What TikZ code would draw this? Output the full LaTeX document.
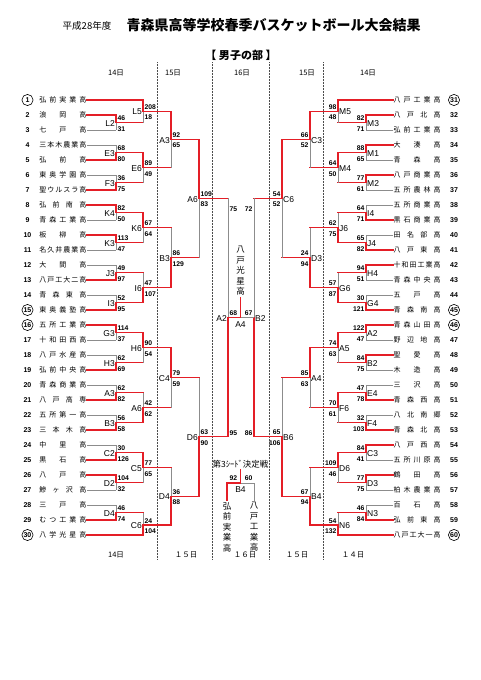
\documentclass[tikz,border=0pt]{standalone}
\usepackage{fontspec}
\setmainfont{Liberation Sans}
\newfontfamily\jpn{Noto Sans CJK JP}
\definecolor{lred}{RGB}{228,30,38}
\definecolor{lgray}{RGB}{140,140,140}
% team name spread over a fixed width
\newcommand\tname[1]{\hbox to 47pt{\spaceskip=0pt plus 1fil\relax #1}}
% game: #1 coord, #2 winner entry, #3 loser entry, #4 next game, #5 label, #6/#7 scores
\newcommand\lgame[7]{%
  \draw[lose] (#1) -- (#1 |- #3);
  \draw[win] (#1) -- (#1 |- #2) (#1) -- (#1 -| #4);
  \node[lbl, anchor=east] at ([shift={(-0.5,0.8)}]#1) {#5};
  \node[sc, anchor=base west] at ([shift={(1,-2)}]#1) {#6};
  \node[sc, anchor=base west] at ([shift={(1,8.5)}]#1) {#7};
}
\newcommand\rgame[7]{%
  \draw[lose] (#1) -- (#1 |- #3);
  \draw[win] (#1) -- (#1 |- #2) (#1) -- (#1 -| #4);
  \node[lbl, anchor=west] at ([shift={(0.5,0.8)}]#1) {#5};
  \node[sc, anchor=base east] at ([shift={(-1,-2)}]#1) {#6};
  \node[sc, anchor=base east] at ([shift={(-1,8.5)}]#1) {#7};
}
\begin{document}
\begin{tikzpicture}[x=1pt,y=-1pt,
  win/.style={draw=lred, line width=1.1pt, line cap=rect},
  lose/.style={draw=lgray, line width=0.7pt},
  lteam/.style={anchor=east, inner sep=0.5pt, font=\jpn\fontsize{7}{8}\selectfont},
  rteam/.style={anchor=west, inner sep=0.5pt, font=\jpn\fontsize{7}{8}\selectfont},
  num/.style={inner sep=0pt, font=\bfseries\fontsize{7}{8}\selectfont},
  lbl/.style={inner sep=0.5pt, font=\fontsize{8.5}{9}\selectfont},
  sc/.style={inner sep=0.3pt, font=\bfseries\fontsize{6.8}{8}\selectfont},
  day/.style={font=\jpn\fontsize{7.5}{9}\selectfont},
  vname/.style={align=center, inner sep=1.5pt, font=\jpn\fontsize{8.5}{10.5}\selectfont},
  dayline/.style={densely dotted, line width=0.5pt, black!70}]
\useasboundingbox (0,0) rectangle (481,680);

% titles
\node[font=\jpn\fontsize{9.5}{11}\selectfont] (year) at (87,26) {平成28年度};
\node[font=\jpn\bfseries\fontsize{14}{16}\selectfont] (title) at (273.5,25) {青森県高等学校春季バスケットボール大会結果};
\node[font=\jpn\bfseries\fontsize{11}{13}\selectfont] (part) at (241,55) {【 男子の部 】};

% day columns
\foreach \x in {157,212,269,323} \draw[dayline] (\x,62) -- (\x,560);
\node[day] (d1) at (116,73) {14日};
\node[day] (d2) at (173,73) {15日};
\node[day] (d3) at (242,73) {16日};
\node[day] (d4) at (307,73) {15日};
\node[day] (d5) at (368,73) {14日};
\node[day] (e1) at (116,555) {14日};
\node[day] (e2) at (186,555) {１５日};
\node[day] (e3) at (245,555) {１６日};
\node[day] (e4) at (297,555) {１５日};
\node[day] (e5) at (353,555) {１４日};

% teams
\foreach \i/\nm in {1/弘 前 実 業 高, 2/浪 岡 高, 3/七 戸 高, 4/三 本 木 農 業 高,
  5/弘 前 高, 6/東 奥 学 園 高, 7/聖 ウ ル ス ラ 高, 8/弘 前 南 高, 9/青 森 工 業 高,
  10/板 柳 高, 11/名 久 井 農 業 高, 12/大 間 高, 13/八 戸 工 大 二 高, 14/青 森 東 高,
  15/東 奥 義 塾 高, 16/五 所 工 業 高, 17/十 和 田 西 高, 18/八 戸 水 産 高,
  19/弘 前 中 央 高, 20/青 森 商 業 高, 21/八 戸 高 専, 22/五 所 第 一 高,
  23/三 本 木 高, 24/中 里 高, 25/黒 石 高, 26/八 戸 高, 27/鰺 ヶ 沢 高,
  28/三 戸 高, 29/む つ 工 業 高, 30/八 学 光 星 高} {
  \node[lteam] (t\i) at (87,{85+15*\i}) {\tname{\nm}};
  \node[num] (n\i) at (27.5,{85+15*\i}) {\i};
}
\foreach \i/\nm in {31/八 戸 工 業 高, 32/八 戸 北 高, 33/弘 前 工 業 高, 34/大 湊 高,
  35/青 森 高, 36/八 戸 商 業 高, 37/五 所 農 林 高, 38/五 所 商 業 高,
  39/黒 石 商 業 高, 40/田 名 部 高, 41/八 戸 東 高, 42/十 和 田 工 業 高,
  43/青 森 中 央 高, 44/五 戸 高, 45/青 森 南 高, 46/青 森 山 田 高, 47/野 辺 地 高,
  48/聖 愛 高, 49/木 造 高, 50/三 沢 高, 51/青 森 西 高, 52/八 北 南 郷,
  53/青 森 北 高, 54/八 戸 西 高, 55/五 所 川 原 高, 56/鶴 田 高, 57/柏 木 農 業 高,
  58/百 石 高, 59/弘 前 東 高, 60/八 戸 工 大 一 高} {
  \node[rteam] (t\i) at (393,{15*\i-365}) {\tname{\nm}};
  \node[num] (n\i) at (454,{15*\i-365}) {\i};
}
\foreach \i in {1,15,16,30,31,45,46,60} \draw[line width=0.6pt] (n\i) circle[radius=5.6pt];

% game points, left half
\coordinate (lL2) at (116,122.5);  \coordinate (lE3) at (116,152.5);
\coordinate (lF3) at (116,182.5);  \coordinate (lK4) at (116,212.5);
\coordinate (lK3) at (116,242.5);  \coordinate (lJ3) at (116,272.5);
\coordinate (lI3) at (116,302.5);  \coordinate (lG3) at (116,332.5);
\coordinate (lH3) at (116,362.5);  \coordinate (lA3b) at (116,392.5);
\coordinate (lB3b) at (116,422.5); \coordinate (lC2) at (116,452.5);
\coordinate (lD2) at (116,482.5);  \coordinate (lD4b) at (116,512.5);
\coordinate (lL5) at (143,111.25); \coordinate (lE6) at (143,167.5);
\coordinate (lK6) at (143,227.5);  \coordinate (lI6) at (143,287.5);
\coordinate (lH6) at (143,347.5);  \coordinate (lA6b) at (143,407.5);
\coordinate (lC5) at (143,467.5);  \coordinate (lC6) at (143,525);
\coordinate (lA3) at (171,139.4);  \coordinate (lB3) at (171,257.5);
\coordinate (lC4) at (171,377.5);  \coordinate (lD4) at (171,496.25);
\coordinate (lA6) at (199,198.4);  \coordinate (lD6) at (199,436.9);
% game points, right half
\coordinate (rM3) at (366,122.5);  \coordinate (rM1) at (366,152.5);
\coordinate (rM2) at (366,182.5);  \coordinate (rI4) at (366,212.5);
\coordinate (rJ4) at (366,242.5);  \coordinate (rH4) at (366,272.5);
\coordinate (rG4) at (366,302.5);  \coordinate (rA2) at (366,332.5);
\coordinate (rB2) at (366,362.5);  \coordinate (rE4) at (366,392.5);
\coordinate (rF4) at (366,422.5);  \coordinate (rC3b) at (366,452.5);
\coordinate (rD3b) at (366,482.5); \coordinate (rN3) at (366,512.5);
\coordinate (rM5) at (338,111.25); \coordinate (rM4) at (338,167.5);
\coordinate (rJ6) at (338,227.5);  \coordinate (rG6) at (338,287.5);
\coordinate (rA5) at (338,347.5);  \coordinate (rF6) at (338,407.5);
\coordinate (rD6) at (338,467.5);  \coordinate (rN6) at (338,525);
\coordinate (rC3) at (310,139.4);  \coordinate (rD3) at (310,257.5);
\coordinate (rA4) at (310,377.5);  \coordinate (rB4) at (310,496.25);
\coordinate (rC6) at (282,198.4);  \coordinate (rB6) at (282,436.9);
% semifinals and final
\coordinate (sA2) at (228,317.7);
\coordinate (sB2) at (254,317.7);
\coordinate (fA4) at (240.5,317.7);

% team lines
\foreach \t/\g in {t3/lL2, t4/lE3, t6/lF3, t9/lK4, t11/lK3, t12/lJ3, t14/lI3, t17/lG3,
  t18/lH3, t20/lA3b, t22/lB3b, t24/lC2, t27/lD2, t28/lD4b, t33/rM3, t35/rM1, t37/rM2,
  t38/rI4, t40/rJ4, t43/rH4, t44/rG4, t47/rA2, t49/rB2, t50/rE4, t52/rF4, t55/rC3b,
  t57/rD3b, t58/rN3}
  \draw[lose] (\t) -- (\t -| \g);
\foreach \t/\g in {t1/lL5, t2/lL2, t5/lE3, t7/lF3, t8/lK4, t10/lK3, t13/lJ3, t15/lI3,
  t16/lG3, t19/lH3, t21/lA3b, t23/lB3b, t25/lC2, t26/lD2, t29/lD4b, t30/lC6, t31/rM5,
  t32/rM3, t34/rM1, t36/rM2, t39/rI4, t41/rJ4, t42/rH4, t45/rG4, t46/rA2, t48/rB2,
  t51/rE4, t53/rF4, t54/rC3b, t56/rD3b, t59/rN3, t60/rN6}
  \draw[win] (\t) -- (\t -| \g);

% left games
\lgame{lL2}{t2}{t3}{lL5}{L2}{46}{31}
\lgame{lE3}{t5}{t4}{lE6}{E3}{68}{80}
\lgame{lF3}{t7}{t6}{lE6}{F3}{36}{75}
\lgame{lK4}{t8}{t9}{lK6}{K4}{82}{50}
\lgame{lK3}{t10}{t11}{lK6}{K3}{113}{47}
\lgame{lJ3}{t13}{t12}{lI6}{J3}{49}{97}
\lgame{lI3}{t15}{t14}{lI6}{I3}{52}{95}
\lgame{lG3}{t16}{t17}{lH6}{G3}{114}{37}
\lgame{lH3}{t19}{t18}{lH6}{H3}{62}{69}
\lgame{lA3b}{t21}{t20}{lA6b}{A3}{62}{82}
\lgame{lB3b}{t23}{t22}{lA6b}{B3}{56}{58}
\lgame{lC2}{t25}{t24}{lC5}{C2}{30}{126}
\lgame{lD2}{t26}{t27}{lC5}{D2}{104}{32}
\lgame{lD4b}{t29}{t28}{lC6}{D4}{46}{74}
\lgame{lL5}{t1}{lL2}{lA3}{L5}{208}{18}
\lgame{lE6}{lE3}{lF3}{lA3}{E6}{89}{49}
\lgame{lK6}{lK4}{lK3}{lB3}{K6}{67}{64}
\lgame{lI6}{lI3}{lJ3}{lB3}{I6}{47}{107}
\lgame{lH6}{lG3}{lH3}{lC4}{H6}{90}{54}
\lgame{lA6b}{lB3b}{lA3b}{lC4}{A6}{42}{62}
\lgame{lC5}{lC2}{lD2}{lD4}{C5}{77}{65}
\lgame{lC6}{t30}{lD4b}{lD4}{C6}{24}{104}
\lgame{lA3}{lL5}{lE6}{lA6}{A3}{92}{65}
\lgame{lB3}{lI6}{lK6}{lA6}{B3}{86}{129}
\lgame{lC4}{lH6}{lA6b}{lD6}{C4}{79}{59}
\lgame{lD4}{lC6}{lC5}{lD6}{D4}{36}{88}
\lgame{lA6}{lA3}{lB3}{sA2}{A6}{109}{83}
\lgame{lD6}{lD4}{lC4}{sA2}{D6}{63}{90}

% right games
\rgame{rM3}{t32}{t33}{rM5}{M3}{82}{71}
\rgame{rM1}{t34}{t35}{rM4}{M1}{88}{65}
\rgame{rM2}{t36}{t37}{rM4}{M2}{77}{61}
\rgame{rI4}{t39}{t38}{rJ6}{I4}{64}{71}
\rgame{rJ4}{t41}{t40}{rJ6}{J4}{65}{82}
\rgame{rH4}{t42}{t43}{rG6}{H4}{94}{51}
\rgame{rG4}{t45}{t44}{rG6}{G4}{30}{121}
\rgame{rA2}{t46}{t47}{rA5}{A2}{122}{47}
\rgame{rB2}{t48}{t49}{rA5}{B2}{84}{75}
\rgame{rE4}{t51}{t50}{rF6}{E4}{47}{78}
\rgame{rF4}{t53}{t52}{rF6}{F4}{32}{103}
\rgame{rC3b}{t54}{t55}{rD6}{C3}{84}{41}
\rgame{rD3b}{t56}{t57}{rD6}{D3}{77}{75}
\rgame{rN3}{t59}{t58}{rN6}{N3}{46}{84}
\rgame{rM5}{t31}{rM3}{rC3}{M5}{98}{48}
\rgame{rM4}{rM1}{rM2}{rC3}{M4}{64}{50}
\rgame{rJ6}{rJ4}{rI4}{rD3}{J6}{62}{75}
\rgame{rG6}{rG4}{rH4}{rD3}{G6}{57}{87}
\rgame{rA5}{rA2}{rB2}{rA4}{A5}{74}{63}
\rgame{rF6}{rE4}{rF4}{rA4}{F6}{70}{61}
\rgame{rD6}{rC3b}{rD3b}{rB4}{D6}{109}{46}
\rgame{rN6}{t60}{rN3}{rB4}{N6}{54}{132}
\rgame{rC3}{rM5}{rM4}{rC6}{C3}{66}{52}
\rgame{rD3}{rG6}{rJ6}{rC6}{D3}{24}{94}
\rgame{rA4}{rA5}{rF6}{rB6}{A4}{85}{63}
\rgame{rB4}{rN6}{rD6}{rB6}{B4}{67}{94}
\rgame{rC6}{rC3}{rD3}{sB2}{C6}{54}{52}
\rgame{rB6}{rB4}{rA4}{sB2}{B6}{65}{106}

% semifinals
\draw[lose] (sA2) -- (sA2 |- lA6);
\draw[win] (sA2) -- (sA2 |- lD6);
\draw[lose] (sB2) -- (sB2 |- rC6);
\draw[win] (sB2) -- (sB2 |- rB6);
\node[lbl, anchor=east] at (227.5,318.5) {A2};
\node[lbl, anchor=west] at (254.5,318.5) {B2};
\node[sc, anchor=base west] at (229,211.5) {75};
\node[sc, anchor=base west] at (229,435) {95};
\node[sc, anchor=base east] at (253,211.5) {72};
\node[sc, anchor=base east] at (253,435) {86};

% final
\node[vname] (champ) at (240.5,271) {八\\戸\\光\\星\\高};
\draw[lose] (fA4) -- (sB2);
\draw[win] (sA2) -- (fA4) -- (champ);
\node[sc, anchor=base west] at (229,315) {68};
\node[sc, anchor=base east] at (253,315) {67};
\node[lbl, anchor=north] at (240.5,320.5) {A4};

% third seed decider
\node[font=\jpn\fontsize{8.5}{10}\selectfont, inner sep=1pt] (third) at (240.5,464) {第3ｼｰﾄﾞ決定戦};
\coordinate (tB4) at (240.5,483);
\node[vname] (p1) at (227,527) {弘\\前\\実\\業\\高};
\node[vname] (p2) at (254,527) {八\\戸\\工\\業\\高};
\draw[lose] (tB4) -- (tB4 -| p2) -- (p2);
\draw[win] (third) -- (tB4) -- (tB4 -| p1) -- (p1);
\node[sc, anchor=base west] at (229,480) {92};
\node[sc, anchor=base east] at (253,480) {60};
\node[lbl, anchor=north] at (240.5,485.5) {B4};
\end{tikzpicture}
\end{document}
